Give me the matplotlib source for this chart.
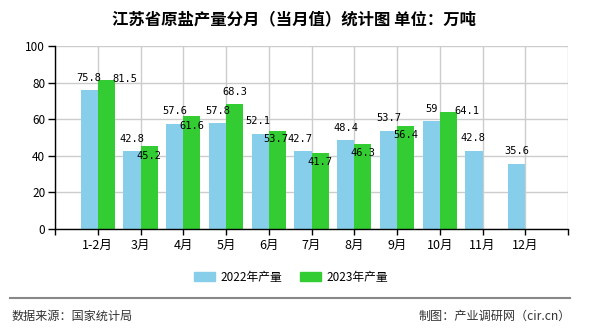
import matplotlib
matplotlib.use("Agg")
import matplotlib.pyplot as plt
import numpy as np
from matplotlib.lines import Line2D
from matplotlib.patches import Patch

plt.rcParams["font.family"] = ["Noto Sans CJK SC", "DejaVu Sans"]

# 数据（万吨）
months = ["1-2月", "3月", "4月", "5月", "6月", "7月", "8月", "9月", "10月", "11月", "12月"]
output_2022 = [75.8, 42.8, 57.6, 57.8, 52.1, 42.7, 48.4, 53.7, 59, 42.8, 35.6]
output_2023 = [81.5, 45.2, 61.6, 68.3, 53.7, 41.7, 46.3, 56.4, 64.1]

# 数值标签的偏移（像素：右移, 上移）
offs_2022 = [(0, 12), (0, 12), (0, 13), (0, 12), (-2, 13), (-3.5, 11.5),
             (0, 12), (0, 12.5), (0, 12), (-1, 12.5), (0, 12.5)]
offs_2023 = [(19, 0.7), (0, -9.7), (0, -9.7), (0, 11.7), (-1.5, -8.3),
             (0, -9), (0, -8.7), (0, -9), (19, 0.7)]

C22 = "#87CEEB"
C23 = "#33CC33"
W = 0.4
PX = 0.72  # 1 像素对应的磅数

fig = plt.figure(figsize=(5.9, 3.3), dpi=100)
ax = fig.add_axes([55 / 590, 1 - 229 / 330, 513 / 590, 183 / 330])

x = np.arange(len(months))
x23 = np.arange(len(output_2023))
ax.bar(x - W / 2, output_2022, W, color=C22, zorder=2)
ax.bar(x23 + W / 2, output_2023, W, color=C23, zorder=2)

lab_font = dict(family="DejaVu Sans Mono", fontsize=7.5, color="black",
                ha="center", va="center", zorder=4)
for xi, v, (dx, dy) in zip(x, output_2022, offs_2022):
    ax.annotate(f"{v:g}", (xi - W / 2, v), xytext=(dx * PX, dy * PX),
                textcoords="offset points", **lab_font)
for xi, v, (dx, dy) in zip(x23, output_2023, offs_2023):
    ax.annotate(f"{v:g}", (xi + W / 2, v), xytext=(dx * PX, dy * PX),
                textcoords="offset points", **lab_font)

ax.set_xlim(-1, len(months))
ax.set_ylim(0, 100)
ax.set_xticks(np.arange(-1, len(months) + 1))
ax.set_xticklabels([""] + months + [""], fontsize=9)
ax.set_yticks(np.arange(0, 101, 20))
ax.tick_params(axis="y", labelsize=8.5, length=5, width=1, pad=2)
ax.tick_params(axis="x", length=4, width=1, pad=3)
ax.grid(True, color="#CCCCCC", linewidth=1, zorder=0)
ax.set_axisbelow(True)
for s in ["top", "right"]:
    ax.spines[s].set_visible(False)
for s in ["left", "bottom"]:
    ax.spines[s].set_color("black")
    ax.spines[s].set_linewidth(1)

fig.text(294 / 590, 1 - 19.5 / 330, "江苏省原盐产量分月（当月值）统计图 单位：万吨",
         ha="center", va="center", fontsize=11.8, fontweight="bold")

handles = [Patch(color=C22, label="2022年产量"), Patch(color=C23, label="2023年产量")]
fig.legend(handles=handles, loc="center", bbox_to_anchor=(291 / 590, 1 - 277 / 330),
           ncol=2, frameon=False, fontsize=8.5, handlelength=1.78,
           handleheight=0.76, handletextpad=0.5, columnspacing=1.44)

fig.add_artist(Line2D([10 / 590, 570 / 590], [1 - 298.3 / 330] * 2,
                      color="#888888", linewidth=1.5))
fig.text(12 / 590, 1 - 316 / 330, "数据来源：国家统计局", ha="left", va="center",
         fontsize=8.7, color="#333333")
fig.text(571 / 590, 1 - 316 / 330, "制图：产业调研网（cir.cn）", ha="right", va="center",
         fontsize=8.7, color="#333333")

fig.savefig("out.png", dpi=100)
